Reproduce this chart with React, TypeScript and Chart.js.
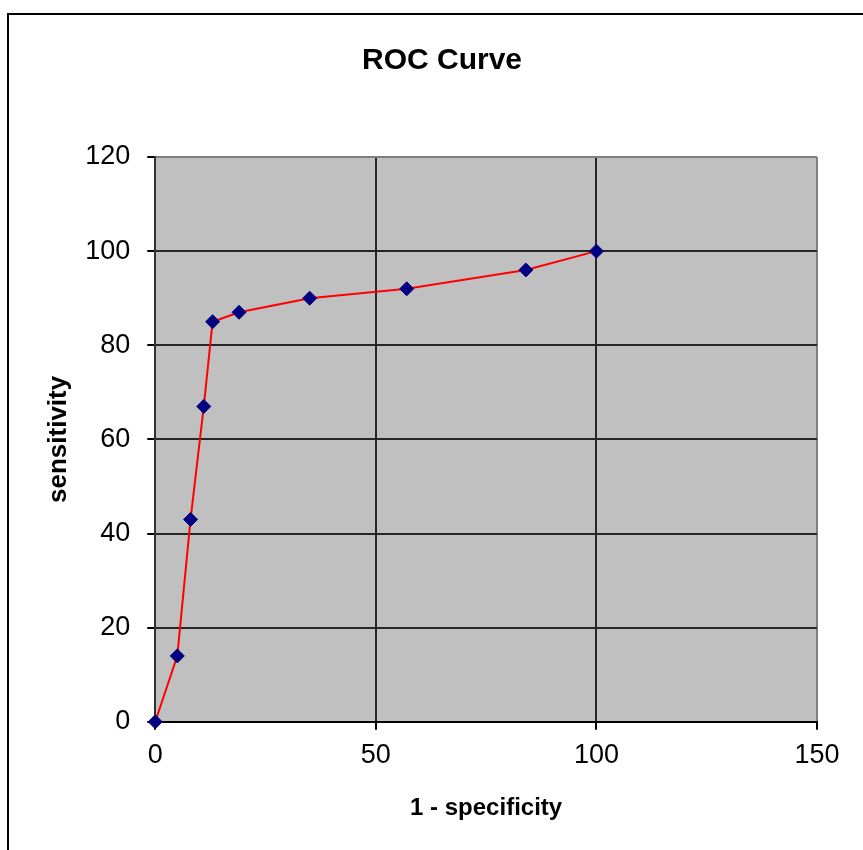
import React, { useEffect, useRef } from 'react';
import { Chart, registerables } from 'chart.js';

Chart.register(...registerables);

// ---- data ----
const falsePositiveRate = [0, 5, 8, 11, 13, 19, 35, 57, 84, 100];
const sensitivity = [0, 14, 43, 67, 85, 87, 90, 92, 96, 100];
const xTickValues = [0, 50, 100, 150];
const yTickValues = [0, 20, 40, 60, 80, 100, 120];
const chartTitle = 'ROC Curve';
const xAxisTitle = '1 - specificity';
const yAxisTitle = 'sensitivity';

const FONT = '"Liberation Sans", Arial, sans-serif';

const framePlugin = {
  id: 'frame',
  beforeDraw(chart: any) {
    const { ctx, chartArea } = chart;
    ctx.save();
    ctx.fillStyle = '#C0C0C0';
    ctx.fillRect(chartArea.left, chartArea.top, chartArea.right - chartArea.left, chartArea.bottom - chartArea.top);
    ctx.strokeStyle = '#000';
    ctx.lineWidth = 2;
    ctx.strokeRect(8, 14, 1000, 1000);
    ctx.restore();
  },
};

export default function App() {
  const ref = useRef<HTMLCanvasElement | null>(null);

  useEffect(() => {
    document.body.style.margin = '0';
    document.documentElement.style.overflow = 'hidden';
    document.body.style.overflow = 'hidden';
    const canvas = ref.current;
    if (!canvas) return;
    const points = falsePositiveRate.map((x, i) => ({ x, y: sensitivity[i] }));
    const chart = new Chart(canvas, {
      type: 'line',
      data: {
        datasets: [
          {
            data: points,
            borderColor: '#FF0000',
            borderWidth: 2,
            backgroundColor: '#000080',
            pointBackgroundColor: '#000080',
            pointBorderColor: '#000080',
            pointBorderWidth: 1,
            pointStyle: 'rectRot',
            pointRadius: 7,
            tension: 0,
            clip: false as any,
          },
        ],
      },
      plugins: [framePlugin],
      options: {
        animation: false,
        responsive: false,
        devicePixelRatio: 1,
        layout: { padding: { left: 67, right: 67, top: 0, bottom: 27 } },
        plugins: {
          legend: { display: false },
          tooltip: { enabled: false },
          title: {
            display: true,
            text: chartTitle,
            color: '#000',
            font: { family: FONT, size: 30, weight: 'bold' },
            padding: { top: 43, bottom: 78 },
          },
        },
        scales: {
          x: {
            type: 'linear',
            min: 0,
            max: 150,
            afterBuildTicks: (scale: any) => {
              scale.ticks = xTickValues.map((v) => ({ value: v }));
            },
            ticks: {
              color: '#000',
              font: { family: FONT, size: 27 },
              padding: 10,
              maxRotation: 0,
            },
            grid: {
              color: (c: any) => (c.tick && c.tick.value === 150 ? '#808080' : '#262626'),
              lineWidth: 2,
              tickColor: '#000',
              tickLength: 8,
            },
            border: { color: '#000', width: 2 },
            title: {
              display: true,
              text: xAxisTitle,
              color: '#000',
              font: { family: FONT, size: 24, weight: 'bold' },
              padding: { top: 12, bottom: 0 },
            },
          },
          y: {
            type: 'linear',
            min: 0,
            max: 120,
            afterBuildTicks: (scale: any) => {
              scale.ticks = yTickValues.map((v) => ({ value: v }));
            },
            ticks: {
              color: '#000',
              font: { family: FONT, size: 27 },
              padding: 17,
            },
            grid: {
              color: (c: any) => (c.tick && c.tick.value === 120 ? '#808080' : '#262626'),
              lineWidth: 2,
              tickColor: '#000',
              tickLength: 8,
            },
            border: { color: '#333', width: 2 },
            title: {
              display: true,
              text: yAxisTitle,
              color: '#000',
              font: { family: FONT, size: 26, weight: 'bold' },
              padding: { top: -24, bottom: -6 },
            },
          },
        },
      },
    } as any);
    return () => chart.destroy();
  }, []);

  return <canvas ref={ref} width={884} height={850} style={{ display: 'block' }} />;
}
